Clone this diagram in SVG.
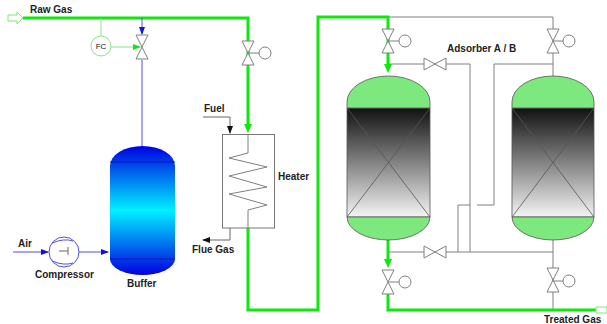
<svg xmlns="http://www.w3.org/2000/svg" width="607" height="324" viewBox="0 0 607 324">
<style>
text{font-family:"Liberation Sans",Arial,sans-serif;font-size:10px;font-weight:bold;fill:#222}
.g{fill:none;stroke:#808080;stroke-width:1}
.gd{fill:none;stroke:#666;stroke-width:1}
.v{fill:#fff;stroke:#808080;stroke-width:1}
.gr{fill:none;stroke:#0de80d;stroke-width:3}
.grt{fill:none;stroke:#90e090;stroke-width:1}
.b{fill:none;stroke:#5050e0;stroke-width:1}
.ves{stroke:#555;stroke-width:.8}
.x{stroke:#555;stroke-width:.8;fill:none}
</style>
<defs>
<linearGradient id="blue" x1="0" y1="0" x2="0" y2="1"><stop offset="0" stop-color="#0000e0"/><stop offset=".5" stop-color="#00f0ff"/><stop offset="1" stop-color="#0000e0"/></linearGradient>
<linearGradient id="dark" x1="0" y1="0" x2="0" y2="1"><stop offset="0" stop-color="#111"/><stop offset="1" stop-color="#f4f4f4"/></linearGradient>
<marker id="ag" markerUnits="userSpaceOnUse" markerWidth="8" markerHeight="8" refX="7" refY="3" orient="auto"><path d="M0 0L8 3L0 6Z" fill="#0de80d"/></marker>
<marker id="agb" markerUnits="userSpaceOnUse" markerWidth="10" markerHeight="8" refX="1" refY="4" orient="auto"><path d="M0 0L9 4L0 8Z" fill="#0de80d"/></marker>
<marker id="ab" markerUnits="userSpaceOnUse" markerWidth="8" markerHeight="8" refX="7" refY="3" orient="auto"><path d="M0 0L8 3L0 6Z" fill="#1010e0"/></marker>
<marker id="ak" markerUnits="userSpaceOnUse" markerWidth="8" markerHeight="8" refX="7" refY="3" orient="auto"><path d="M0 0L8 3L0 6Z" fill="#111"/></marker>
<g id="valveV"><path class="v" d="M-6-12H6L-6 12H6Z"/></g>
<g id="valveH"><path class="v" d="M-11-6V6L11-6V6Z"/></g>
<g id="actV"><path class="g" d="M0 0H10"/><circle class="v" cx="16" cy="0" r="6"/></g>
</defs>
<rect width="607" height="324" fill="#fff"/>
<g id="connectors">
<path class="g" d="M388 17H553V76"/>
<path class="g" d="M388 64H470V252"/>
<path class="g" d="M553 64H494V205H477M470 205H458V252"/>
<path class="g" d="M388 252H553M553 240V310"/>
<path class="gr" d="M23 18H248V125" marker-end="url(#agb)"/>
<path class="gr" d="M248 228V310H318V17H388V65" marker-end="url(#agb)"/>
<path class="gr" d="M388 240V260" marker-end="url(#agb)"/>
<path class="gr" d="M388 294V310H596"/>
<path class="grt" d="M101 18V36"/>
<path class="grt" d="M111 47H140" marker-end="url(#ag)"/>
<path class="b" d="M142 18V34" marker-end="url(#ab)"/>
<path class="b" d="M142 60V146"/>
<path class="b" d="M13 252H48" marker-end="url(#ab)"/>
<path class="b" d="M79 252H108" marker-end="url(#ab)"/>
<path class="gd" d="M203 117H230V133" marker-end="url(#ak)"/>
<path class="gd" d="M230 228V240H203" marker-end="url(#ak)"/>
</g>
<g id="raw-gas-inlet"><path d="M8 15H17V12L23 18L17 24V21H8Z" fill="#fff" stroke="#7fe87f"/><text x="30" y="13">Raw Gas</text></g>
<g id="treated-gas-outlet"><path d="M596 307H607V313H596Z" fill="#fff" stroke="#7fe87f"/><text x="544" y="323">Treated Gas</text></g>
<g id="fc"><circle cx="101" cy="46" r="10" fill="#fff" stroke="#90e090"/><text x="101" y="49" text-anchor="middle" style="font-weight:normal;font-size:8px">FC</text></g>
<g id="valve-buffer"><use href="#valveV" x="142" y="47"/></g>
<g id="valve-heater"><use href="#valveV" x="248" y="53"/><use href="#actV" x="249" y="53"/></g>
<g id="valve-a-top"><use href="#valveV" x="388" y="41"/><use href="#actV" x="389" y="41"/></g>
<g id="valve-b-top"><use href="#valveV" x="553" y="41"/><use href="#actV" x="553" y="41"/></g>
<g id="valve-a-bottom"><use href="#valveV" x="388" y="282"/><use href="#actV" x="389" y="282"/></g>
<g id="valve-b-bottom"><use href="#valveV" x="553" y="280"/><use href="#actV" x="553" y="281"/></g>
<g id="valve-mid-top"><use href="#valveH" x="435" y="64"/></g>
<g id="valve-mid-bottom"><use href="#valveH" x="435" y="252"/></g>
<g id="compressor"><circle cx="64" cy="252" r="15" fill="#fff" stroke="#5050e0"/><path class="b" d="M52 243Q64 238 73 241M52 261Q64 266 73 263"/><path d="M59 251H68M68 247V255" stroke="#666" fill="none"/><text x="18" y="247">Air</text><text x="35" y="278">Compressor</text></g>
<g id="buffer"><path d="M110 166A32.500 20 0 0 1 175 166V259A32.500 16 0 0 1 110 259Z" fill="url(#blue)"/><path d="M110 162H175M110 259H175" stroke="#0000a0" stroke-width=".7"/><text x="127" y="287">Buffer</text></g>
<g id="heater"><rect x="222.500" y="134.500" width="52" height="93.500" fill="#fff" stroke="#777"/><path class="g" d="M248 135V153L229 158L267 167L229 176L267 187L229 194L267 205L248 210V228"/><text x="278" y="180">Heater</text><text x="204" y="112">Fuel</text><text x="192" y="253">Flue Gas</text></g>
<g id="adsorber-a"><path class="ves" d="M347 108H430V217H347Z" fill="url(#dark)"/><path class="x" d="M347 108L430 217M430 108L347 217"/><path class="ves" d="M347 108V102A41.500 26 0 0 1 430 102V108Z" fill="#7de87d"/><path class="ves" d="M347 217H430A41.500 23 0 0 1 347 217Z" fill="#7de87d"/></g>
<g id="adsorber-b"><path class="ves" d="M512 108H594V217H512Z" fill="url(#dark)"/><path class="x" d="M512 108L594 217M594 108L512 217"/><path class="ves" d="M512 108V102A41 26 0 0 1 594 102V108Z" fill="#7de87d"/><path class="ves" d="M512 217H594A41 23 0 0 1 512 217Z" fill="#7de87d"/></g>
<text x="447" y="52">Adsorber A / B</text>
</svg>
